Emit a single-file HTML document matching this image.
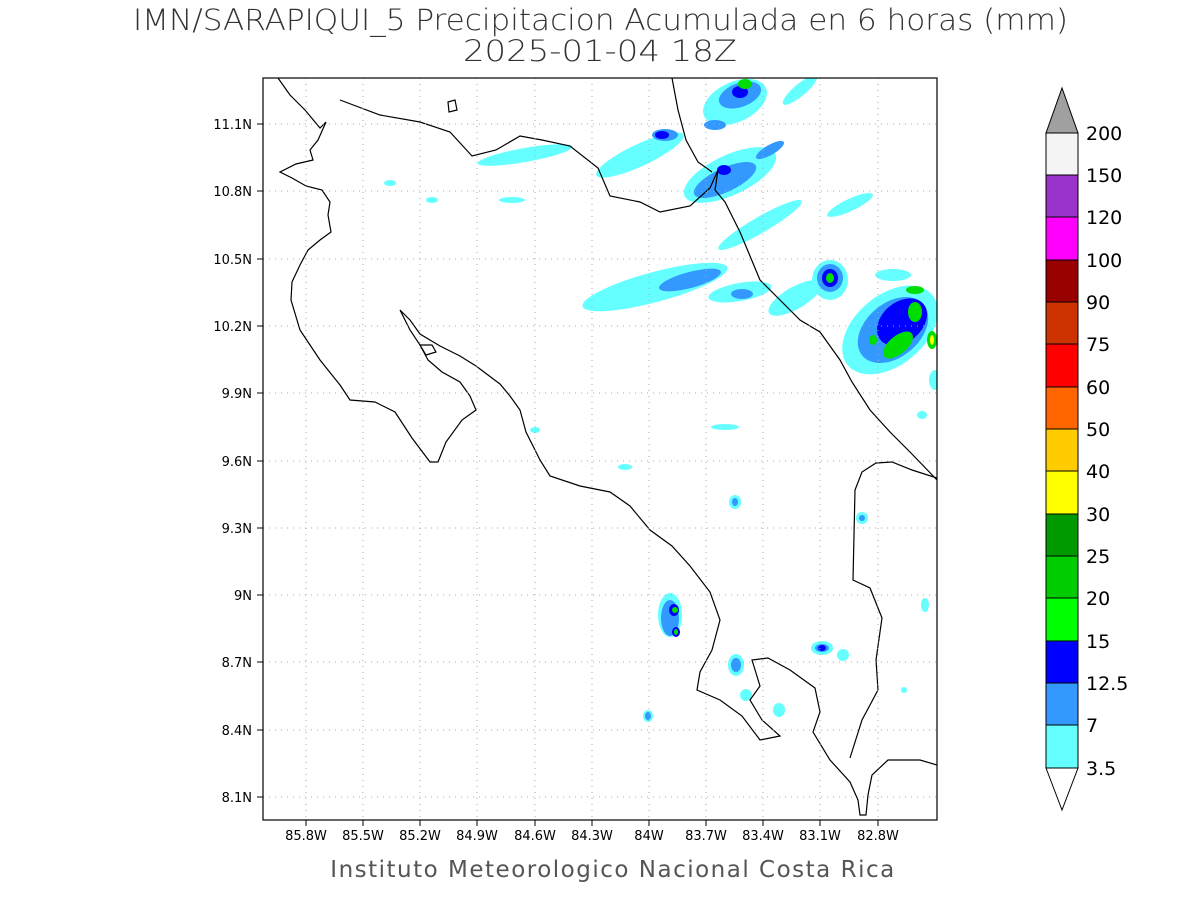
<!DOCTYPE html>
<html><head><meta charset="utf-8"><style>
html,body{margin:0;padding:0;background:#fff;}
svg{display:block;}
text{font-family:"DejaVu Sans","Liberation Sans",sans-serif;}
</style></head><body>
<svg width="1200" height="900" viewBox="0 0 1200 900" xmlns="http://www.w3.org/2000/svg">
<rect width="1200" height="900" fill="#fff"/>
<text x="133" y="30" font-size="29" textLength="935" lengthAdjust="spacingAndGlyphs" fill="#333" font-weight="300">IMN/SARAPIQUI_5 Precipitacion Acumulada en 6 horas (mm)</text>
<text x="463" y="61" font-size="29" textLength="274" lengthAdjust="spacingAndGlyphs" fill="#333" font-weight="300">2025-01-04 18Z</text>

<defs><clipPath id="c"><rect x="263" y="78" width="674" height="742"/></clipPath></defs>
<g clip-path="url(#c)">
<g fill="#66ffff">
<ellipse cx="525" cy="155" rx="48" ry="7" transform="rotate(-10 525 155)"/>
<ellipse cx="390" cy="183" rx="6" ry="3"/>
<ellipse cx="432" cy="200" rx="6" ry="3"/>
<ellipse cx="512" cy="200" rx="13" ry="3"/>
<ellipse cx="640" cy="155" rx="48" ry="11" transform="rotate(-25 640 155)"/>
<ellipse cx="735" cy="102" rx="34" ry="20" transform="rotate(-25 735 102)"/>
<ellipse cx="730" cy="175" rx="50" ry="20" transform="rotate(-25 730 175)"/>
<ellipse cx="800" cy="90" rx="22" ry="6" transform="rotate(-40 800 90)"/>
<ellipse cx="760" cy="225" rx="48" ry="8" transform="rotate(-30 760 225)"/>
<ellipse cx="850" cy="205" rx="25" ry="6" transform="rotate(-25 850 205)"/>
<ellipse cx="655" cy="287" rx="75" ry="15" transform="rotate(-15 655 287)"/>
<ellipse cx="740" cy="292" rx="32" ry="9" transform="rotate(-10 740 292)"/>
<ellipse cx="795" cy="298" rx="30" ry="11" transform="rotate(-30 795 298)"/>
<ellipse cx="830" cy="280" rx="18" ry="20"/>
<ellipse cx="890" cy="330" rx="55" ry="35" transform="rotate(-40 890 330)"/>
<ellipse cx="893" cy="275" rx="18" ry="6"/>
<ellipse cx="935" cy="380" rx="6" ry="10"/>
<ellipse cx="922" cy="415" rx="5" ry="4"/>
<ellipse cx="535" cy="430" rx="5" ry="3"/>
<ellipse cx="725" cy="427" rx="14" ry="3"/>
<ellipse cx="625" cy="467" rx="7" ry="3"/>
<ellipse cx="735" cy="502" rx="6" ry="7"/>
<ellipse cx="862" cy="518" rx="6" ry="6"/>
<ellipse cx="670" cy="615" rx="12" ry="22"/>
<ellipse cx="736" cy="665" rx="8" ry="11"/>
<ellipse cx="746" cy="695" rx="6" ry="6"/>
<ellipse cx="779" cy="710" rx="6" ry="7"/>
<ellipse cx="648" cy="716" rx="5" ry="6"/>
<ellipse cx="822" cy="648" rx="11" ry="7"/>
<ellipse cx="843" cy="655" rx="6" ry="6"/>
<ellipse cx="925" cy="605" rx="4" ry="7"/>
<ellipse cx="904" cy="690" rx="3" ry="3"/>
</g>
<g fill="#3399ff">
<ellipse cx="740" cy="95" rx="22" ry="12" transform="rotate(-20 740 95)"/>
<ellipse cx="665" cy="135" rx="13" ry="6"/>
<ellipse cx="715" cy="125" rx="11" ry="5"/>
<ellipse cx="725" cy="180" rx="34" ry="12" transform="rotate(-25 725 180)"/>
<ellipse cx="770" cy="150" rx="16" ry="5" transform="rotate(-30 770 150)"/>
<ellipse cx="690" cy="280" rx="32" ry="8" transform="rotate(-15 690 280)"/>
<ellipse cx="742" cy="294" rx="11" ry="5"/>
<ellipse cx="830" cy="278" rx="13" ry="14"/>
<ellipse cx="893" cy="330" rx="40" ry="27" transform="rotate(-40 893 330)"/>
<ellipse cx="670" cy="618" rx="9" ry="18"/>
<ellipse cx="736" cy="665" rx="5" ry="7"/>
<ellipse cx="822" cy="648" rx="7" ry="4"/>
<ellipse cx="735" cy="502" rx="3" ry="4"/>
<ellipse cx="862" cy="518" rx="3" ry="3"/>
<ellipse cx="648" cy="716" rx="3" ry="4"/>
</g>
<g fill="#0000ff">
<ellipse cx="740" cy="92" rx="8" ry="6"/>
<ellipse cx="662" cy="135" rx="7" ry="4"/>
<ellipse cx="724" cy="170" rx="7" ry="5"/>
<ellipse cx="830" cy="278" rx="8" ry="9"/>
<ellipse cx="902" cy="322" rx="28" ry="20" transform="rotate(-40 902 322)"/>
<ellipse cx="674" cy="610" rx="5" ry="6"/>
<ellipse cx="676" cy="632" rx="4" ry="5"/>
<ellipse cx="822" cy="648" rx="4" ry="3"/>
</g>
<g fill="#00dd00">
<ellipse cx="745" cy="84" rx="7" ry="5"/>
<ellipse cx="830" cy="278" rx="4" ry="5"/>
<ellipse cx="898" cy="345" rx="18" ry="9" transform="rotate(-40 898 345)"/>
<ellipse cx="915" cy="312" rx="7" ry="10"/>
<ellipse cx="915" cy="290" rx="9" ry="4"/>
<ellipse cx="873" cy="340" rx="4" ry="5"/>
<ellipse cx="932" cy="340" rx="5" ry="9"/>
<ellipse cx="675" cy="610" rx="3" ry="3"/>
<ellipse cx="676" cy="632" rx="2" ry="3"/>
</g>
<ellipse cx="932" cy="340" rx="2" ry="5" fill="#ffff00"/>
<g fill="none" stroke="#000" stroke-width="1.2">
<path d="M278,78 L290,95 L305,110 L320,128 L326,122 L318,140 L310,150 L313,160 L296,164 L280,172 L292,178 L306,186 L322,190 L330,202 L328,215 L331,232 L320,240 L308,250 L300,265 L292,282 L291,300 L300,330 L320,360 L340,385 L350,400 L375,402 L395,412 L412,438 L430,462 L438,462 L446,442 L462,420 L476,410 L470,396 L460,382 L442,372 L428,360 L420,345 L410,330 L400,310 L410,320 L420,334 L440,346 L460,356 L476,366 L492,378 L500,384 L510,396 L520,410 L526,432 L540,460 L550,476 L580,486 L610,492 L630,506 L650,530 L672,546 L690,566 L710,592 L720,620 L712,650 L700,672 L697,690 L720,700 L742,716 L760,740 L780,736 L762,720 L750,700 L760,686 L752,660 L768,658 L790,670 L815,688 L820,712 L813,732 L830,760 L850,782 L858,800 L860,815 L866,815 L868,795 L872,775 L888,760 L920,760 L937,765"/>
<path d="M420,345 L432,345 L436,352 L426,355 Z"/>
<path d="M448,102 L455,100 L457,110 L449,112 Z"/>
<path d="M340,100 L380,115 L420,122 L450,132 L472,156 L496,150 L520,136 L542,140 L570,146 L598,168 L610,196 L640,202 L660,212 L690,206 L710,188 L718,170 L715,190 L725,202 L740,232 L760,280 L780,300 L800,320 L820,332 L840,360 L852,382 L870,410 L890,432 L910,452 L937,480"/>
<path d="M672,78 L678,110 L686,140 L698,162 L712,172"/>
<path d="M937,478 L912,470 L892,462 L876,463 L862,472 L855,490 L853,580 L870,588 L882,618 L876,660 L878,690 L862,720 L850,758"/>
</g>
</g>
<g stroke="#aaa" stroke-width="1" stroke-dasharray="1,5">
<line x1="263" y1="124" x2="937" y2="124"/><line x1="263" y1="191" x2="937" y2="191"/>
<line x1="263" y1="259" x2="937" y2="259"/><line x1="263" y1="326" x2="937" y2="326"/>
<line x1="263" y1="393" x2="937" y2="393"/><line x1="263" y1="461" x2="937" y2="461"/>
<line x1="263" y1="528" x2="937" y2="528"/><line x1="263" y1="595" x2="937" y2="595"/>
<line x1="263" y1="662" x2="937" y2="662"/><line x1="263" y1="730" x2="937" y2="730"/>
<line x1="263" y1="797" x2="937" y2="797"/>
<line x1="306" y1="78" x2="306" y2="820"/><line x1="363" y1="78" x2="363" y2="820"/>
<line x1="420" y1="78" x2="420" y2="820"/><line x1="477" y1="78" x2="477" y2="820"/>
<line x1="535" y1="78" x2="535" y2="820"/><line x1="592" y1="78" x2="592" y2="820"/>
<line x1="649" y1="78" x2="649" y2="820"/><line x1="706" y1="78" x2="706" y2="820"/>
<line x1="763" y1="78" x2="763" y2="820"/><line x1="820" y1="78" x2="820" y2="820"/>
<line x1="878" y1="78" x2="878" y2="820"/>
</g>
<rect x="263" y="78" width="674" height="742" fill="none" stroke="#000" stroke-width="1.2"/>
<g stroke="#000" stroke-width="1">
<path d="M257,124h6M257,191h6M257,259h6M257,326h6M257,393h6M257,461h6M257,528h6M257,595h6M257,662h6M257,730h6M257,797h6"/>
<path d="M306,820v6M363,820v6M420,820v6M477,820v6M535,820v6M592,820v6M649,820v6M706,820v6M763,820v6M820,820v6M878,820v6"/>
</g>
<g font-size="13" fill="#000" text-anchor="end">
<text x="252" y="129">11.1N</text><text x="252" y="196">10.8N</text><text x="252" y="264">10.5N</text>
<text x="252" y="331">10.2N</text><text x="252" y="398">9.9N</text><text x="252" y="466">9.6N</text>
<text x="252" y="533">9.3N</text><text x="252" y="600">9N</text><text x="252" y="667">8.7N</text>
<text x="252" y="735">8.4N</text><text x="252" y="802">8.1N</text>
</g>
<g font-size="13" fill="#000" text-anchor="middle">
<text x="306" y="840">85.8W</text><text x="363" y="840">85.5W</text><text x="420" y="840">85.2W</text>
<text x="477" y="840">84.9W</text><text x="535" y="840">84.6W</text><text x="592" y="840">84.3W</text>
<text x="649" y="840">84W</text><text x="706" y="840">83.7W</text><text x="763" y="840">83.4W</text>
<text x="820" y="840">83.1W</text><text x="878" y="840">82.8W</text>
</g>
<text x="613" y="877" font-size="23" text-anchor="middle" fill="#555" letter-spacing="1.5">Instituto Meteorologico Nacional Costa Rica</text>
<g stroke="#000" stroke-width="1">
<path d="M1046,133 L1062,88 L1078,133 Z" fill="#a0a0a0"/>
<rect x="1046" y="133" width="32" height="42" fill="#f4f4f4"/>
<rect x="1046" y="175" width="32" height="42" fill="#9933cc"/>
<rect x="1046" y="217" width="32" height="43" fill="#ff00ff"/>
<rect x="1046" y="260" width="32" height="42" fill="#990000"/>
<rect x="1046" y="302" width="32" height="42" fill="#cc3300"/>
<rect x="1046" y="344" width="32" height="43" fill="#ff0000"/>
<rect x="1046" y="387" width="32" height="42" fill="#ff6600"/>
<rect x="1046" y="429" width="32" height="42" fill="#ffcc00"/>
<rect x="1046" y="471" width="32" height="43" fill="#ffff00"/>
<rect x="1046" y="514" width="32" height="42" fill="#009900"/>
<rect x="1046" y="556" width="32" height="42" fill="#00cc00"/>
<rect x="1046" y="598" width="32" height="43" fill="#00ff00"/>
<rect x="1046" y="641" width="32" height="42" fill="#0000ff"/>
<rect x="1046" y="683" width="32" height="42" fill="#3399ff"/>
<rect x="1046" y="725" width="32" height="43" fill="#66ffff"/>
<path d="M1046,768 L1062,810 L1078,768 Z" fill="#fff"/>
</g>
<g font-size="19" fill="#000">
<text x="1086" y="140">200</text><text x="1086" y="182">150</text><text x="1086" y="224">120</text>
<text x="1086" y="267">100</text><text x="1086" y="309">90</text><text x="1086" y="351">75</text>
<text x="1086" y="394">60</text><text x="1086" y="436">50</text><text x="1086" y="478">40</text>
<text x="1086" y="521">30</text><text x="1086" y="563">25</text><text x="1086" y="605">20</text>
<text x="1086" y="648">15</text><text x="1086" y="690">12.5</text><text x="1086" y="732">7</text>
<text x="1086" y="775">3.5</text>
</g>
</svg>
</body></html>
